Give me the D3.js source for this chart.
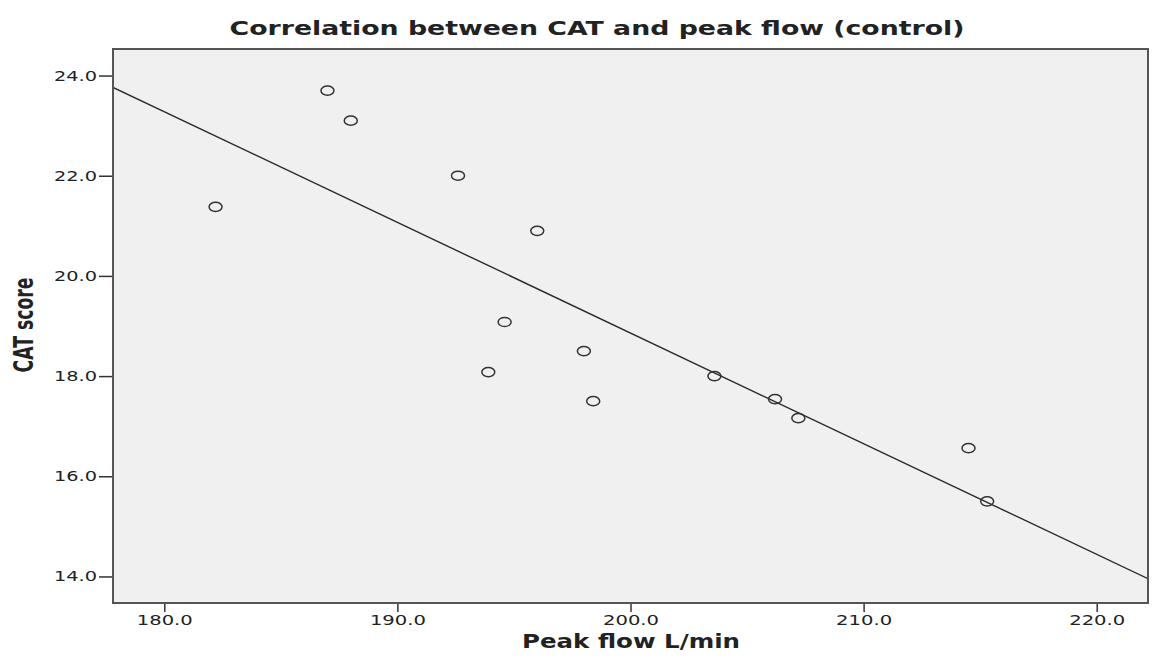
<!DOCTYPE html>
<html>
<head>
<meta charset="utf-8">
<script src="https://cdn.jsdelivr.net/npm/d3@7"></script>
<style>
  body { margin: 0; background: #fff; }
  .chart { width: 1156px; height: 660px; }
  text { font-family: "DejaVu Sans", Verdana, sans-serif; fill: #222; }
  .axis path { display: none; }
  .axis line { stroke: #333; stroke-width: 1.5; }
</style>
</head>
<body>
<div class="chart"></div>
<script>

// peak flow (L/min) and CAT score
let peakFlow = [182.2, 187.0, 188.0, 192.6, 196.0, 194.6, 193.9, 198.0, 198.4, 203.6, 206.2, 207.2, 214.5, 215.3];
let catScore = [21.38, 23.7, 23.1, 22.0, 20.9, 19.08, 18.08, 18.5, 17.5, 18.0, 17.54, 17.16, 16.56, 15.5];

let xTicks = [180, 190, 200, 210, 220];
let yTicks = [14, 16, 18, 20, 22, 24];

let chart = {};

chart.margin = { top: 49, right: 8, bottom: 57, left: 113 };
chart.width = 1156 - chart.margin.left - chart.margin.right;
chart.height = 660 - chart.margin.top - chart.margin.bottom;

chart.xScale = d3.scaleLinear()
    .domain([177.8, 222.2])
    .range([0, chart.width]);

chart.yScale = d3.scaleLinear()
    .domain([13.47, 24.53])
    .range([chart.height, 0]);

// least squares fit line
let mx = d3.mean(peakFlow);
let my = d3.mean(catScore);
let sxy = d3.sum(peakFlow, (x, i) => (x - mx) * (catScore[i] - my));
let sxx = d3.sum(peakFlow, x => (x - mx) * (x - mx));
let slope = sxy / sxx;
let intercept = my - slope * mx;
let fitPoints = chart.xScale.domain().map(x => ({ x: x, y: intercept + slope * x }));

chart.svg = d3.select(".chart").append("svg")
    .attr("width", 1156)
    .attr("height", 660);

chart.plot = chart.svg.append("g")
    .attr("transform", `translate(${chart.margin.left},${chart.margin.top})`);

chart.svg.append("defs").append("clipPath").attr("id", "clip")
    .append("rect")
    .attr("width", chart.width)
    .attr("height", chart.height);

chart.plot.append("rect")
    .attr("width", chart.width)
    .attr("height", chart.height)
    .attr("fill", "#f0f0f0");

chart.xAxis = chart.plot.append("g")
    .attr("class", "axis x-axis")
    .attr("transform", `translate(0,${chart.height})`)
    .call(d3.axisBottom(chart.xScale)
        .tickValues(xTicks)
        .tickSize(9)
        .tickFormat(d3.format(".1f")));

chart.xAxis.selectAll("text")
    .attr("font-size", 14.5)
    .attr("dy", "0.69em")
    .attr("textLength", 56)
    .attr("lengthAdjust", "spacingAndGlyphs");

chart.yAxis = chart.plot.append("g")
    .attr("class", "axis y-axis")
    .call(d3.axisLeft(chart.yScale)
        .tickValues(yTicks)
        .tickSize(14)
        .tickFormat(d3.format(".1f")));

chart.yAxis.selectAll("text")
    .attr("font-size", 14)
    .attr("x", -16)
    .attr("textLength", 43)
    .attr("lengthAdjust", "spacingAndGlyphs");

chart.line = d3.line()
    .x(d => chart.xScale(d.x))
    .y(d => chart.yScale(d.y));

chart.plot.append("path")
    .attr("clip-path", "url(#clip)")
    .attr("d", chart.line(fitPoints))
    .attr("fill", "none")
    .attr("stroke", "#2a2a2a")
    .attr("stroke-width", 1.4);

chart.plot.selectAll(".dot")
    .data(peakFlow)
    .enter()
    .append("ellipse")
    .attr("class", "dot")
    .attr("cx", d => chart.xScale(d))
    .attr("cy", (d, i) => chart.yScale(catScore[i]))
    .attr("rx", 6.5)
    .attr("ry", 4.6)
    .attr("fill", "none")
    .attr("stroke", "#333")
    .attr("stroke-width", 1.5);

// frame
chart.plot.append("rect")
    .attr("width", chart.width)
    .attr("height", chart.height)
    .attr("fill", "none")
    .attr("stroke", "#555")
    .attr("stroke-width", 2);

chart.svg.append("text")
    .attr("x", 597)
    .attr("y", 35)
    .attr("text-anchor", "middle")
    .attr("font-size", 19)
    .attr("font-weight", "bold")
    .attr("textLength", 735)
    .attr("lengthAdjust", "spacingAndGlyphs")
    .text("Correlation between CAT and peak flow (control)");

chart.svg.append("text")
    .attr("x", 631)
    .attr("y", 648)
    .attr("text-anchor", "middle")
    .attr("font-size", 20)
    .attr("font-weight", "bold")
    .attr("textLength", 218)
    .attr("lengthAdjust", "spacingAndGlyphs")
    .text("Peak flow L/min");

chart.svg.append("text")
    .attr("transform", "translate(33,325) rotate(-90)")
    .attr("text-anchor", "middle")
    .attr("font-size", 26)
    .attr("font-weight", "bold")
    .attr("textLength", 95)
    .attr("lengthAdjust", "spacingAndGlyphs")
    .text("CAT score");

</script>
</body>
</html>
